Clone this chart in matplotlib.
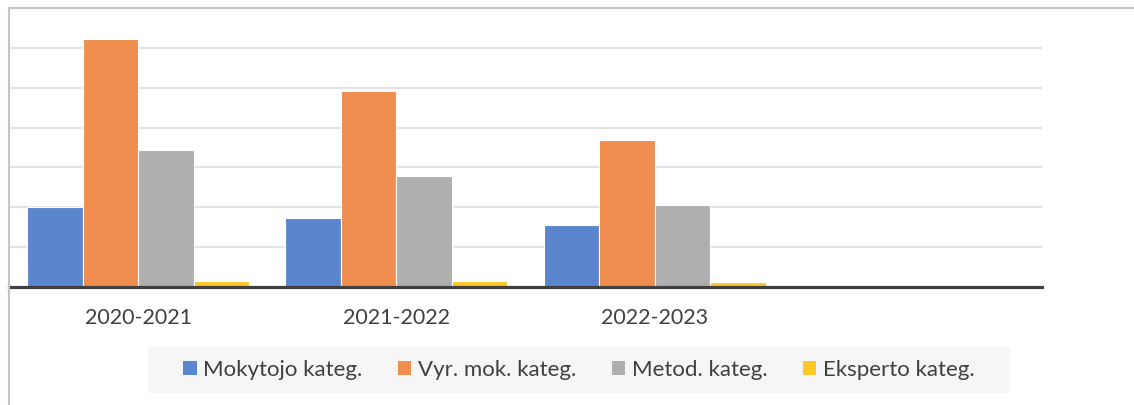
import matplotlib
matplotlib.use("Agg")
import matplotlib.pyplot as plt
import numpy as np
from matplotlib.lines import Line2D
from matplotlib.patches import Rectangle

# ---- data (in gridline units; labels hidden in the original) ----
categories = ["2020-2021", "2021-2022", "2022-2023", ""]
series_names = ["Mokytojo kateg.", "Vyr. mok. kateg.", "Metod. kateg.", "Eksperto kateg."]
mokytojo = [2.0, 1.73, 1.55, 0]
vyr_mok = [6.23, 4.93, 3.7, 0]
metod = [3.43, 2.78, 2.05, 0]
eksperto = [0.15, 0.15, 0.13, 0]

colors = ["#5B86CD", "#EF8E4F", "#AFAFAF", "#FFC726"]
text_color = "#404040"

W, H = 1134, 405
fig = plt.figure(figsize=(W / 100, H / 100), dpi=100)
plt.rcParams['font.family'] = ['Lato', 'DejaVu Sans']

left, right, top, bottom = 9, 1042, 8, 287
ax = fig.add_axes([left / W, (H - bottom) / H, (right - left) / W, (bottom - top) / H])

x = np.arange(len(categories))
bw = 0.215
data = [mokytojo, vyr_mok, metod, eksperto]
for i, (vals, name, c) in enumerate(zip(data, series_names, colors)):
    offs = (i - 1.5) * bw
    ax.bar(x + offs, vals, width=bw, color=c, edgecolor="white", linewidth=0.8,
           label=name, zorder=3)

ax.set_xlim(-0.5, len(categories) - 0.5)
ax.set_ylim(0, 7)
ax.set_yticks(np.arange(1, 7))
ax.yaxis.grid(True, color="#e2e2e2", linewidth=1.5, zorder=0)
ax.tick_params(axis="y", left=False, labelleft=False)
ax.set_xticks(x)
ax.set_xticklabels(categories, fontsize=15.5, color=text_color)
ax.tick_params(axis="x", length=0, pad=15)
for s in ["top", "right", "left"]:
    ax.spines[s].set_visible(False)
ax.spines["bottom"].set_color("#404040")
ax.spines["bottom"].set_linewidth(2.3)
ax.spines["bottom"].set_zorder(4)

# chart-area border (cropped)
fig.add_artist(Line2D([9 / W, 1], [(H - 8) / H, (H - 8) / H], color="#c4c4c4", linewidth=1.5, transform=fig.transFigure))
fig.add_artist(Line2D([9 / W, 9 / W], [0, (H - 8) / H], color="#c4c4c4", linewidth=1.5, transform=fig.transFigure))

# legend background
fig.add_artist(Rectangle((148 / W, (H - 393) / H), (1010 - 148) / W, 46 / H,
                         transform=fig.transFigure, facecolor="#f6f6f6", edgecolor="none", zorder=0))
handles = [Rectangle((0, 0), 1, 1, facecolor=c, edgecolor="none") for c in colors]
leg = fig.legend(handles, series_names, loc="center", bbox_to_anchor=(579 / W, (H - 370) / H),
                 ncol=4, frameon=False, fontsize=16, labelcolor=text_color,
                 handlelength=0.6, handleheight=0.6, handletextpad=0.3, columnspacing=1.6)

fig.savefig("out.png", dpi=100)
